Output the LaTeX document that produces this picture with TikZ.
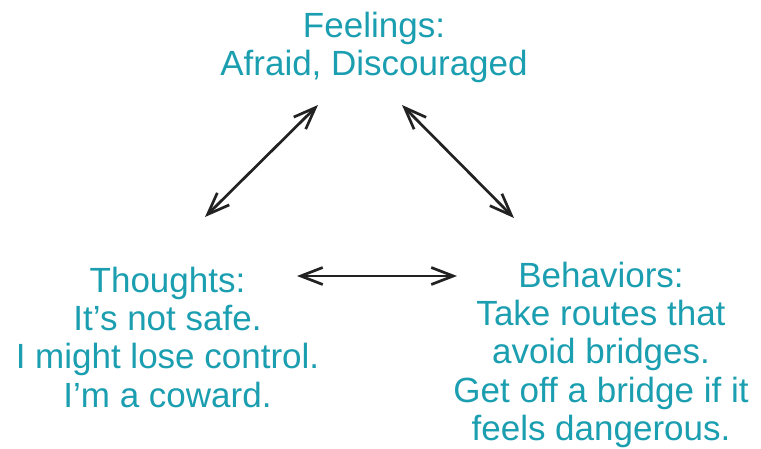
\documentclass[tikz,border=0pt]{standalone}
\usepackage{fontspec}
\setmainfont{Liberation Sans}
\usetikzlibrary{arrows.meta}
\definecolor{teal}{HTML}{1A9EB0}
\definecolor{ink}{HTML}{222222}
\tikzset{
  label text/.style={text=teal, align=center, inner sep=0pt, anchor=north,
    font=\fontsize{35}{38.4}\selectfont},
  link/.style={draw=ink, line width=2.7pt,
    {Straight Barb[length=22pt,width=17pt]}-{Straight Barb[length=22pt,width=17pt]}}
}
\begin{document}
\begin{tikzpicture}[x=1pt,y=-1pt]
\useasboundingbox (0,0) rectangle (761,448);
\node[label text] (feel) at (374,11.5) {Feelings:\\Afraid, Discouraged};
\node[label text] (thought) at (167.5,266.5) {Thoughts:\\It’s not safe.\\I might lose control.\\I’m a coward.};
\node[label text] (behav) at (601,261.5) {Behaviors:\\Take routes that\\avoid bridges.\\Get off a bridge if it\\feels dangerous.};
\coordinate (a1) at (318,105);
\coordinate (a2) at (205,217);
\coordinate (b1) at (402,105);
\coordinate (b2) at (514,218);
\coordinate (c1) at (297,276);
\coordinate (c2) at (457,276);
\draw[link] (a2) -- (a1);
\draw[link] (b1) -- (b2);
\draw[link] (c1) -- (c2);
\end{tikzpicture}
\end{document}
